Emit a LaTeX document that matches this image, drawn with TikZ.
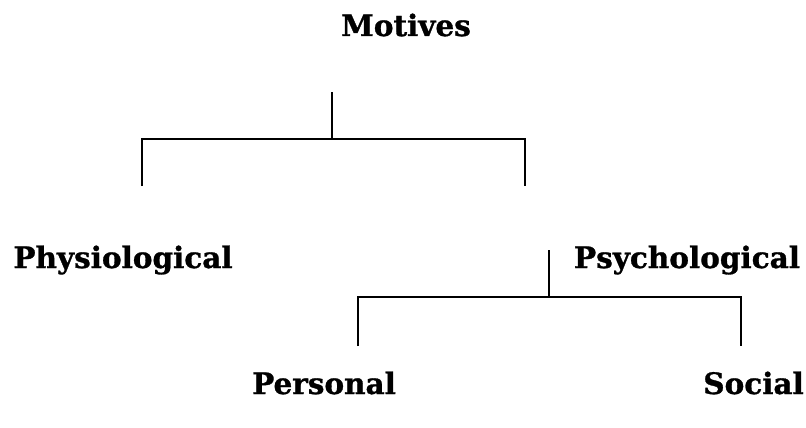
\documentclass[tikz,border=0pt]{standalone}
\usepackage{fontspec}
\setmainfont[BoldFeatures={FakeBold=1}]{DejaVu Serif}
\begin{document}
\begin{tikzpicture}[x=1pt,y=-1pt,
  lbl/.style={font=\bfseries\fontsize{29.5}{32}\selectfont, inner sep=0pt, anchor=base},
  conn/.style={line width=1.2pt, black}]
\useasboundingbox (0,0) rectangle (806,428);
\node[lbl] (motives) at (406,36) {Motives};
\node[lbl] (phys) at (123,268) {Physiological};
\node[lbl] (psych) at (687,268) {Psychological};
\node[lbl] (pers) at (324,394) {Personal};
\node[lbl, anchor=base east] (soc) at (804,394) {Social};
\coordinate (m1) at (332,92);
\coordinate (m2) at (332,139);
\coordinate (mL) at (142,139);
\coordinate (mR) at (525,139);
\coordinate (mLd) at (142,186);
\coordinate (mRd) at (525,186);
\coordinate (p1) at (549,250);
\coordinate (p2) at (549,297);
\coordinate (pL) at (358,297);
\coordinate (pR) at (741,297);
\coordinate (pLd) at (358,346);
\coordinate (pRd) at (741,346);
\draw[conn] (m1) -- (m2);
\draw[conn] (mLd) -- (mL) -- (mR) -- (mRd);
\draw[conn] (p1) -- (p2);
\draw[conn] (pLd) -- (pL) -- (pR) -- (pRd);
\end{tikzpicture}
\end{document}
